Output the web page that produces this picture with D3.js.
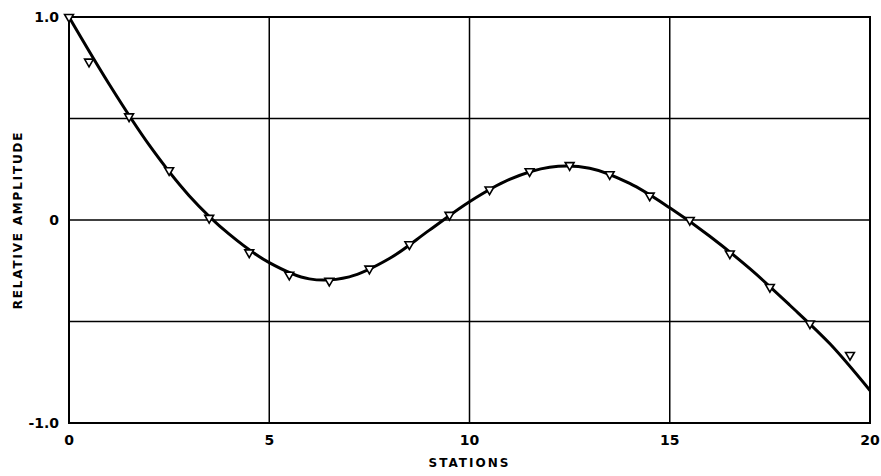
<!DOCTYPE html>
<html>
<head>
<meta charset="utf-8">
<script src="https://cdn.jsdelivr.net/npm/d3@7"></script>
<style>
  body { margin: 0; background: #fff; }
  text { font-family: "DejaVu Sans", sans-serif; font-weight: bold; fill: #000; }
</style>
</head>
<body>
<div id="chart"></div>
<script>
// measured station values (triangles)
var stations = [0, 0.5, 1.5, 2.5, 3.5, 4.5, 5.5, 6.5, 7.5, 8.5, 9.5, 10.5, 11.5, 12.5, 13.5, 14.5, 15.5, 16.5, 17.5, 18.5, 19.5];
var amplitude = [1.0, 0.78, 0.51, 0.245, 0.01, -0.16, -0.27, -0.30, -0.24, -0.12, 0.025, 0.15, 0.24, 0.27, 0.225, 0.12, 0.0, -0.165, -0.33, -0.51, -0.665];

// smooth theoretical curve
var curveX = [0, 1, 2, 3, 4, 5, 6, 7, 8, 9, 10, 11, 12, 13, 14, 15, 16, 17, 18, 19, 20];
var curveY = [1.0, 0.67, 0.37, 0.12, -0.07, -0.21, -0.29, -0.28, -0.19, -0.05, 0.09, 0.20, 0.26, 0.255, 0.18, 0.06, -0.08, -0.24, -0.42, -0.61, -0.84];

var xTicks = [0, 5, 10, 15, 20];
var yGrid = [-0.5, 0, 0.5];
var yLabels = [{v: 1, t: "1.0"}, {v: 0, t: "0"}, {v: -1, t: "-1.0"}];

var width = 881, height = 476;
var margin = {left: 69, right: 11, top: 17, bottom: 53};

var svg = d3.select("#chart").append("svg")
  .attr("width", width)
  .attr("height", height);

var x = d3.scaleLinear().domain([0, 20]).range([margin.left, width - margin.right]);
var y = d3.scaleLinear().domain([-1, 1]).range([height - margin.bottom, margin.top]);

// grid lines
svg.selectAll("line.vg")
  .data(xTicks.slice(1, -1))
  .enter().append("line")
    .attr("class", "vg")
    .attr("x1", function(d) { return x(d); })
    .attr("x2", function(d) { return x(d); })
    .attr("y1", y(1))
    .attr("y2", y(-1))
    .attr("stroke", "#000")
    .attr("stroke-width", 1.5);

svg.selectAll("line.hg")
  .data(yGrid)
  .enter().append("line")
    .attr("class", "hg")
    .attr("x1", x(0))
    .attr("x2", x(20))
    .attr("y1", function(d) { return y(d); })
    .attr("y2", function(d) { return y(d); })
    .attr("stroke", "#000")
    .attr("stroke-width", 1.5);

// frame
svg.append("rect")
  .attr("x", x(0))
  .attr("y", y(1))
  .attr("width", x(20) - x(0))
  .attr("height", y(-1) - y(1))
  .attr("fill", "none")
  .attr("stroke", "#000")
  .attr("stroke-width", 2);

// curve
var line = d3.line()
  .x(function(d, i) { return x(curveX[i]); })
  .y(function(d) { return y(d); })
  .curve(d3.curveCatmullRom.alpha(0.5));

svg.append("path")
  .datum(curveY)
  .attr("d", line)
  .attr("fill", "none")
  .attr("stroke", "#000")
  .attr("stroke-width", 3);

// triangle markers
var tri = d3.symbol().type(d3.symbolTriangle).size(34);
svg.selectAll("path.pt")
  .data(amplitude)
  .enter().append("path")
    .attr("class", "pt")
    .attr("d", tri)
    .attr("transform", function(d, i) { return "translate(" + x(stations[i]) + "," + y(d) + ") rotate(180)"; })
    .attr("fill", "#fff")
    .attr("stroke", "#000")
    .attr("stroke-width", 1.6);

// tick labels
svg.selectAll("text.xt")
  .data(xTicks)
  .enter().append("text")
    .attr("class", "xt")
    .attr("x", function(d) { return x(d); })
    .attr("y", y(-1) + 22)
    .attr("text-anchor", "middle")
    .attr("font-size", 14)
    .text(function(d) { return d; });

svg.selectAll("text.yt")
  .data(yLabels)
  .enter().append("text")
    .attr("class", "yt")
    .attr("x", x(0) - 10)
    .attr("y", function(d) { return y(d.v) + 5; })
    .attr("text-anchor", "end")
    .attr("font-size", 14)
    .text(function(d) { return d.t; });

// axis titles
svg.append("text")
  .attr("x", x(10))
  .attr("y", 467)
  .attr("text-anchor", "middle")
  .attr("font-size", 12)
  .attr("letter-spacing", 2)
  .text("STATIONS");

svg.append("text")
  .attr("transform", "translate(22," + y(0) + ") rotate(-90)")
  .attr("text-anchor", "middle")
  .attr("font-size", 12)
  .attr("letter-spacing", 1.8)
  .text("RELATIVE AMPLITUDE");
</script>
</body>
</html>
